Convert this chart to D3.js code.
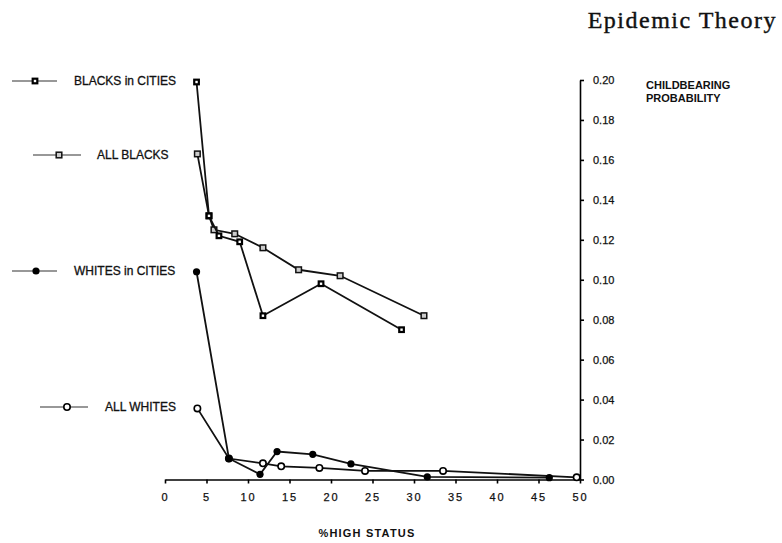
<!DOCTYPE html>
<html>
<head>
<meta charset="utf-8">
<script src="https://cdn.jsdelivr.net/npm/d3@7"></script>
<style>
  body { margin: 0; background: #fff; }
  svg { display: block; }
  .axis path, .axis line { stroke: #000; stroke-width: 1.6; }
  .axis text { font-family: "Liberation Sans", Arial, sans-serif; font-size: 11px; fill: #111; stroke: #111; stroke-width: 0.25; }
  .x-axis text { letter-spacing: 2px; }
  .series { fill: none; stroke: #111; stroke-width: 1.8; }
  .legend-text { font-family: "Liberation Sans", Arial, sans-serif; font-size: 12px; fill: #111; stroke: #111; stroke-width: 0.3; }
  .axis-title { font-family: "Liberation Sans", Arial, sans-serif; font-size: 11px; font-weight: bold; fill: #111; }
</style>
</head>
<body>
<div id="chart"></div>
<script>
// values (% high status vs childbearing probability)
let blacksCitiesX = [3.8, 5.3, 6.5, 9.0, 11.8, 18.8, 28.5];
let blacksCitiesY = [0.199, 0.132, 0.122, 0.119, 0.082, 0.098, 0.075];

let allBlacksX = [3.9, 5.3, 5.9, 8.4, 11.8, 16.1, 21.1, 31.2];
let allBlacksY = [0.163, 0.132, 0.125, 0.123, 0.116, 0.105, 0.102, 0.082];

let whitesCitiesX = [3.8, 7.7, 11.45, 13.5, 17.8, 22.4, 31.6, 46.3];
let whitesCitiesY = [0.104, 0.0105, 0.0026, 0.014, 0.0126, 0.0078, 0.0013, 0.0009];

let allWhitesX = [3.9, 7.7, 11.8, 14.0, 18.6, 24.1, 33.5, 49.6];
let allWhitesY = [0.0356, 0.0105, 0.0081, 0.0066, 0.0058, 0.0043, 0.0043, 0.0011];

let xTicks = [0, 5, 10, 15, 20, 25, 30, 35, 40, 45, 50];
let yTicks = [0, 0.02, 0.04, 0.06, 0.08, 0.10, 0.12, 0.14, 0.16, 0.18, 0.20];

let seriesNames = ["BLACKS in CITIES", "ALL BLACKS", "WHITES in CITIES", "ALL WHITES"];

let width = 782, height = 543;
let margin = {top: 80, left: 165, right: 202, bottom: 63.5};

let svg = d3.select("#chart").append("svg")
    .attr("width", width)
    .attr("height", height);

let x = d3.scaleLinear().domain([0, 50]).range([margin.left, width - margin.right]);
let y = d3.scaleLinear().domain([0, 0.20]).range([height - margin.bottom, margin.top]);

// axes
let xAxis = d3.axisBottom(x).tickValues(xTicks).tickSize(4).tickSizeOuter(0).tickPadding(9.5);
let yAxis = d3.axisRight(y).tickValues(yTicks).tickFormat(d3.format(".2f")).tickSize(4).tickSizeOuter(0).tickPadding(9);

svg.append("g")
    .attr("class", "axis x-axis")
    .attr("transform", "translate(0," + y(0) + ")")
    .call(xAxis);
svg.append("g")
    .attr("class", "axis y-axis")
    .attr("transform", "translate(" + x(50) + ",0)")
    .call(yAxis);

// helpers
let zip = (xs, ys) => xs.map((v, i) => ({x: v, y: ys[i]}));
let line = d3.line().x(d => x(d.x)).y(d => y(d.y));

let series = [
    {name: seriesNames[3], data: zip(allWhitesX, allWhitesY), marker: "openCircle", lx: [40, 88], mx: 67, ly: 407, tx: 105},
    {name: seriesNames[2], data: zip(whitesCitiesX, whitesCitiesY), marker: "dot", lx: [12, 57], mx: 36, ly: 271, tx: 74},
    {name: seriesNames[1], data: zip(allBlacksX, allBlacksY), marker: "lightSquare", lx: [33, 81], mx: 59, ly: 155, tx: 97},
    {name: seriesNames[0], data: zip(blacksCitiesX, blacksCitiesY), marker: "darkSquare", lx: [12, 57], mx: 35, ly: 81, tx: 74}
];

function drawMarker(g, type, cx, cy) {
    if (type === "darkSquare") {
        g.append("rect").attr("x", cx - 2.3).attr("y", cy - 2.3).attr("width", 4.6).attr("height", 4.6)
            .attr("fill", "#fff").attr("stroke", "#000").attr("stroke-width", 2.2);
    } else if (type === "lightSquare") {
        g.append("rect").attr("x", cx - 2.8).attr("y", cy - 2.8).attr("width", 5.6).attr("height", 5.6)
            .attr("fill", "#ccc").attr("stroke", "#111").attr("stroke-width", 1.5);
    } else if (type === "dot") {
        g.append("circle").attr("cx", cx).attr("cy", cy).attr("r", 3.6).attr("fill", "#000");
    } else {
        g.append("circle").attr("cx", cx).attr("cy", cy).attr("r", 3.2)
            .attr("fill", "#fff").attr("stroke", "#000").attr("stroke-width", 1.6);
    }
}

series.forEach(s => {
    let g = svg.append("g");
    g.append("path").attr("class", "series").attr("d", line(s.data));
    s.data.forEach(d => drawMarker(g, s.marker, x(d.x), y(d.y)));

    // legend entry
    let lg = svg.append("g");
    lg.append("line")
        .attr("x1", s.lx[0]).attr("x2", s.lx[1])
        .attr("y1", s.ly).attr("y2", s.ly)
        .attr("stroke", "#333").attr("stroke-width", 1.2);
    drawMarker(lg, s.marker, s.mx, s.ly);
    lg.append("text").attr("class", "legend-text")
        .attr("x", s.tx).attr("y", s.ly + 4.3)
        .text(s.name);
});

// titles
svg.append("text")
    .attr("x", 777).attr("y", 28)
    .attr("text-anchor", "end")
    .style("font-family", "'Liberation Serif', 'Times New Roman', serif")
    .style("font-size", "24px")
    .style("letter-spacing", "1.5px")
    .attr("fill", "#111")
    .attr("stroke", "#111")
    .attr("stroke-width", 0.4)
    .text("Epidemic Theory");

svg.append("text").attr("class", "axis-title").attr("x", 646).attr("y", 89).text("CHILDBEARING");
svg.append("text").attr("class", "axis-title").attr("x", 646).attr("y", 102).text("PROBABILITY");

svg.append("text").attr("class", "axis-title")
    .attr("x", 367).attr("y", 537)
    .attr("text-anchor", "middle")
    .style("letter-spacing", "1.2px")
    .text("%HIGH STATUS");
</script>
</body>
</html>
